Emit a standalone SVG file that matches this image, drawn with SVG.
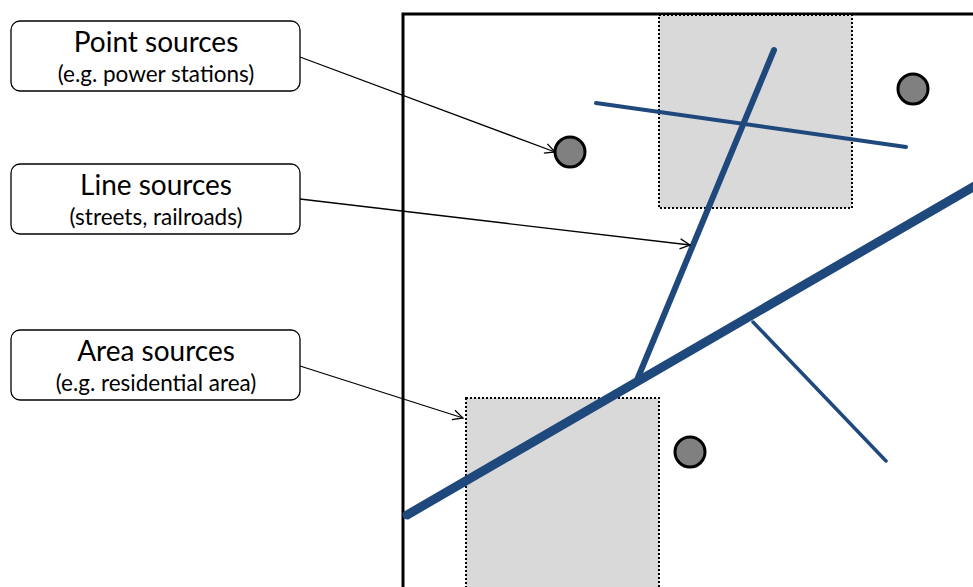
<svg xmlns="http://www.w3.org/2000/svg" width="973" height="587" viewBox="0 0 973 587">
<style>
.box{fill:#fff;stroke:#000;stroke-width:1.3}
.t1{font-family:Lato,"Open Sans",sans-serif;font-size:28px;text-anchor:middle;fill:#000}
.t2{font-family:Lato,"Open Sans",sans-serif;font-size:22.5px;text-anchor:middle;fill:#000}
.area{fill:#d9d9d9;stroke:#000;stroke-width:2;stroke-dasharray:2 2}
.src{fill:#808080;stroke:#000;stroke-width:3}
.road{stroke:#1f497d;stroke-linecap:round;fill:none}
.conn{stroke:#000;stroke-width:1.3;fill:none;marker-end:url(#arr)}
</style>
<defs>
<marker id="arr" viewBox="0 0 12 12" refX="11" refY="6" markerWidth="12" markerHeight="12" markerUnits="userSpaceOnUse" orient="auto">
<path d="M1,1 L11,6 L1,11" fill="none" stroke="#000" stroke-width="1.3"/>
</marker>
</defs>
<g id="frame">
<path d="M403,587 V14 H973" fill="none" stroke="#000" stroke-width="3"/>
</g>
<g id="area-top"><rect class="area" x="659" y="15" width="193" height="193"/></g>
<g id="area-bottom"><rect class="area" x="466" y="398" width="193" height="192"/></g>
<g id="roads">
<line class="road" x1="596" y1="103" x2="906" y2="147" stroke-width="4"/>
<line class="road" x1="774" y1="50" x2="637" y2="380" stroke-width="6"/>
<line class="road" x1="753" y1="322" x2="886" y2="461" stroke-width="3.5"/>
<line class="road" x1="407" y1="515" x2="980" y2="183" stroke-width="9"/>
</g>
<g id="point-1"><circle class="src" cx="570" cy="152" r="15"/></g>
<g id="point-2"><circle class="src" cx="913" cy="89" r="15"/></g>
<g id="point-3"><circle class="src" cx="690" cy="452" r="15"/></g>
<g id="point-label">
<rect class="box" x="11" y="21" width="289" height="70" rx="9"/>
<text class="t1" x="156" y="52">Point sources</text>
<text class="t2" x="156" y="82">(e.g. power stations)</text>
</g>
<g id="line-label">
<rect class="box" x="11" y="164" width="289" height="70" rx="9"/>
<text class="t1" x="156" y="195">Line sources</text>
<text class="t2" x="156" y="225">(streets, railroads)</text>
</g>
<g id="area-label">
<rect class="box" x="11" y="330" width="289" height="70" rx="9"/>
<text class="t1" x="156" y="361">Area sources</text>
<text class="t2" x="156" y="391">(e.g. residential area)</text>
</g>
<g id="connectors">
<line class="conn" x1="300" y1="57" x2="555" y2="152"/>
<line class="conn" x1="300" y1="199" x2="690" y2="245"/>
<line class="conn" x1="300" y1="366" x2="463" y2="418"/>
</g>
</svg>
